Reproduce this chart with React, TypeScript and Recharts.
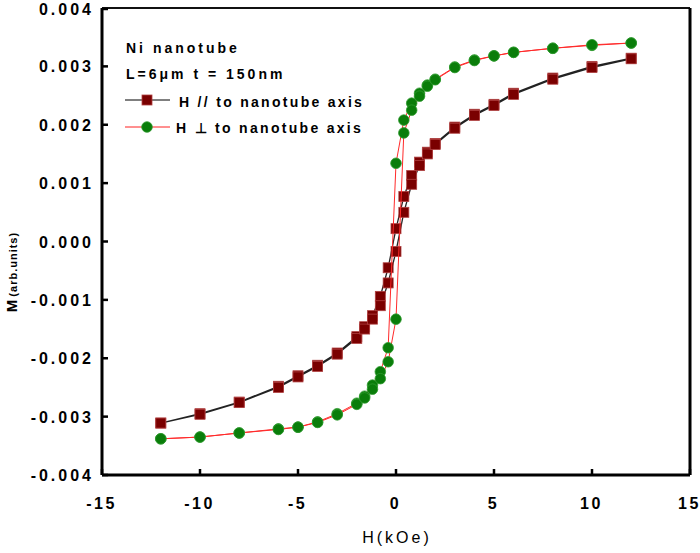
import React from 'react';
import { ScatterChart, Scatter, XAxis, YAxis, ReferenceLine, Legend } from 'recharts';

const FIELD_DOWN = [12, 10, 8, 6, 5, 4, 3, 2, 1.6, 1.2, 0.8, 0.4, 0, -0.4, -0.8, -1.2, -1.6, -2, -3, -4, -5, -6, -8, -10, -12];
const FIELD_UP = [-12, -10, -8, -6, -5, -4, -3, -2, -1.6, -1.2, -0.8, -0.4, 0, 0.4, 0.8, 1.2, 1.6, 2, 3, 4, 5, 6, 8, 10, 12];

const PAR_DOWN = [0.00314, 0.0030, 0.0028, 0.00254, 0.00235, 0.00218, 0.00196, 0.00168, 0.00153, 0.00136, 0.00113, 0.00077, 0.00022, -0.00045, -0.00094, -0.00127, -0.00146, -0.00163, -0.00191, -0.00212, -0.0023, -0.00248, -0.00275, -0.00295, -0.00311];
const PAR_UP = [-0.00311, -0.00296, -0.00276, -0.0025, -0.00232, -0.00214, -0.00193, -0.00166, -0.0015, -0.00133, -0.0011, -0.00071, -0.00017, 0.0005, 0.00098, 0.0013, 0.0015, 0.00166, 0.00194, 0.00216, 0.00233, 0.00252, 0.00278, 0.00298, 0.00313];

const PERP_DOWN = [0.0034, 0.00336, 0.00331, 0.00324, 0.00318, 0.00311, 0.00299, 0.00278, 0.00268, 0.00254, 0.00237, 0.00208, 0.00134, -0.00182, -0.00223, -0.00246, -0.00265, -0.00277, -0.00295, -0.00309, -0.00318, -0.00321, -0.00328, -0.00335, -0.00338];
const PERP_UP = [-0.00338, -0.00335, -0.00328, -0.00322, -0.00318, -0.0031, -0.00297, -0.00279, -0.00268, -0.00253, -0.00235, -0.00206, -0.00133, 0.00186, 0.00225, 0.00249, 0.00266, 0.00277, 0.00298, 0.0031, 0.00318, 0.00324, 0.00331, 0.00337, 0.0034];

const X_TICKS = [-15, -10, -5, 0, 5, 10, 15];
const Y_TICKS = [-0.004, -0.003, -0.002, -0.001, 0, 0.001, 0.002, 0.003, 0.004];

const SERIES_PAR = 'H // to nanotube axis';
const SERIES_PERP = 'H \u22A5 to nanotube axis';
const TITLE_1 = 'Ni nanotube';
const TITLE_2 = 'L=6\u03BCm  t = 150nm';

const FONT = '"Liberation Sans", Arial, Helvetica, sans-serif';

const build = (xs: number[], ys: number[]) => xs.map((x, i) => ({ x, y: ys[i] }));

const SquareShape = (props: any) => {
  const { cx, cy } = props;
  if (cx == null || cy == null) return null;
  return <rect x={cx - 5} y={cy - 5} width={10} height={10} fill="#7a0000" stroke="#b04040" strokeWidth={0.8} />;
};

const CircleShape = (props: any) => {
  const { cx, cy } = props;
  if (cx == null || cy == null) return null;
  return <circle cx={cx} cy={cy} r={5.3} fill="#0a7d0a" stroke="#2e9a2e" strokeWidth={0.8} />;
};

const YTick = (props: any) => {
  const { x, y, payload } = props;
  return (
    <g>
      <line x1={x} x2={x + 6} y1={y} y2={y} stroke="#000" strokeWidth={2.5} />
      <text x={x - 8} y={y + 6} textAnchor="end" fontFamily={FONT} fontWeight="bold" fontSize={16} letterSpacing={3} fill="#000">
        {Number(payload.value).toFixed(3)}
      </text>
    </g>
  );
};

const XTick = (props: any) => {
  const { x, y, payload } = props;
  return (
    <g>
      <line x1={x} x2={x} y1={y} y2={y - 6} stroke="#000" strokeWidth={2.5} />
      <text x={x - 0.5} y={y + 34} textAnchor="middle" fontFamily={FONT} fontWeight="bold" fontSize={16} letterSpacing={2.5} fill="#000">
        {String(payload.value)}
      </text>
    </g>
  );
};

const YLabel = () => (
  <text transform="translate(17, 272) rotate(-90)" textAnchor="middle" fontFamily={FONT} fontWeight="bold" fill="#000">
    <tspan fontSize={15}>M</tspan>
    <tspan fontSize={11} letterSpacing={1} dx={3}>(arb.units)</tspan>
  </text>
);

const XLabel = () => (
  <text x={397} y={543} textAnchor="middle" fontFamily={FONT} fontSize={16} letterSpacing={3} fill="#000">
    H(kOe)
  </text>
);

const LegendBox = () => (
  <svg width={320} height={120} style={{ display: 'block' }}>
    <g fontFamily={FONT} fontWeight="bold" fill="#000">
      <text x={6} y={23} fontSize={14} letterSpacing={3}>{TITLE_1}</text>
      <text x={6} y={49} fontSize={14} letterSpacing={3}>{TITLE_2}</text>
      <line x1={5} x2={50} y1={70} y2={70} stroke="#000" strokeWidth={1} />
      <rect x={22} y={65} width={10} height={10} fill="#7a0000" stroke="#b04040" strokeWidth={0.8} />
      <text x={59} y={77} fontSize={14} letterSpacing={2.3}>{SERIES_PAR}</text>
      <line x1={5} x2={50} y1={97} y2={97} stroke="#ff2020" strokeWidth={1} />
      <circle cx={27} cy={97} r={5.3} fill="#0a7d0a" stroke="#2e9a2e" strokeWidth={0.8} />
      <text x={56} y={103} fontSize={14} letterSpacing={2.3}>{SERIES_PERP}</text>
    </g>
  </svg>
);

export default function App() {
  const parData = [...build(FIELD_DOWN, PAR_DOWN), ...build(FIELD_UP, PAR_UP)];
  const perpData = [...build(FIELD_DOWN, PERP_DOWN), ...build(FIELD_UP, PERP_UP)];
  return (
    <div style={{ position: 'absolute', left: 0, top: 0, width: 700, height: 553, background: '#fff' }}>
      <ScatterChart width={700} height={553} margin={{ top: 8, right: 10, bottom: 0, left: 0 }}>
        <XAxis
          type="number"
          dataKey="x"
          domain={[-15, 15]}
          ticks={X_TICKS}
          allowDataOverflow
          height={78}
          tickSize={0}
          tickMargin={0}
          tickLine={false}
          axisLine={{ stroke: '#000', strokeWidth: 3 }}
          tick={<XTick />}
          label={<XLabel />}
        />
        <YAxis
          type="number"
          dataKey="y"
          domain={[-0.004, 0.004]}
          ticks={Y_TICKS}
          allowDataOverflow
          width={102}
          tickSize={0}
          tickMargin={0}
          tickLine={false}
          axisLine={{ stroke: '#000', strokeWidth: 3 }}
          tick={<YTick />}
          label={<YLabel />}
        />
        <ReferenceLine y={0.004} stroke="#111" strokeWidth={2} ifOverflow="visible" />
        <ReferenceLine x={15} stroke="#000" strokeWidth={3} ifOverflow="visible" />
        <Scatter
          name={SERIES_PAR}
          data={parData}
          line={{ stroke: '#222', strokeWidth: 1.3 }}
          lineJointType="linear"
          shape={<SquareShape />}
          isAnimationActive={false}
        />
        <Scatter
          name={SERIES_PERP}
          data={perpData}
          line={{ stroke: '#ff2a2a', strokeWidth: 1 }}
          lineJointType="linear"
          shape={<CircleShape />}
          isAnimationActive={false}
        />
        <Legend
          layout="horizontal"
          verticalAlign="middle"
          align="center"
          content={() => <LegendBox />}
          wrapperStyle={{ left: 120, top: 30, width: 320, height: 120 }}
        />
      </ScatterChart>
    </div>
  );
}
